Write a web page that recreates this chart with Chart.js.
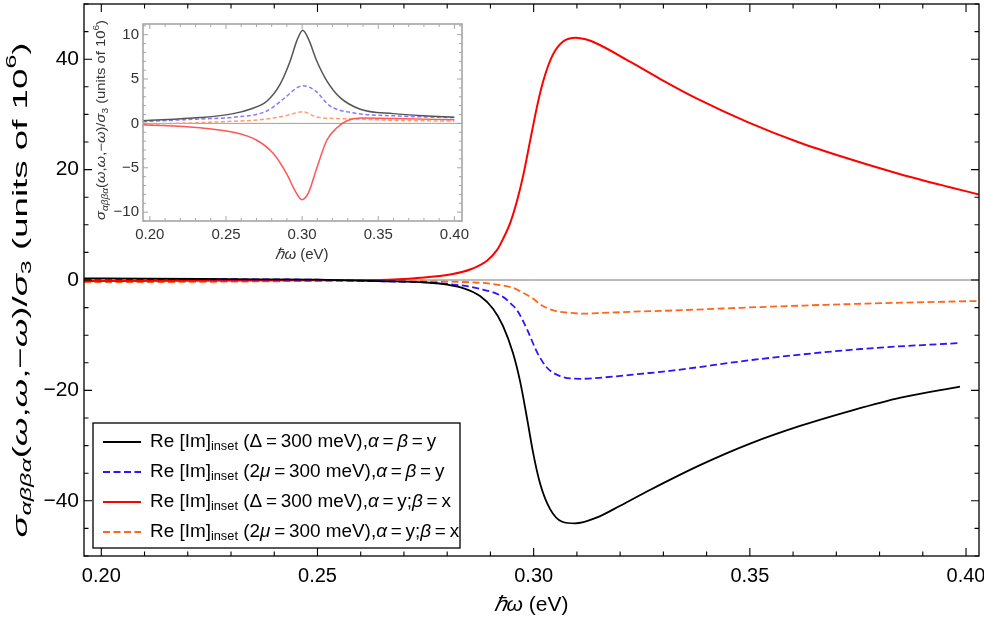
<!DOCTYPE html>
<html>
<head>
<meta charset="utf-8">
<script src="https://cdn.jsdelivr.net/npm/chart.js@4.4.1/dist/chart.umd.min.js"></script>
<style>
  html, body { margin: 0; padding: 0; background: #fff; }
  #wrap { position: relative; width: 984px; height: 618px; }
  #main { position: absolute; left: 0; top: 0; }
  #inset { position: absolute; left: 88px; top: 12px; }
</style>
</head>
<body>
<div id="wrap">
  <canvas id="main" width="984" height="618"></canvas>
  <canvas id="inset" width="387" height="256"></canvas>
</div>
<script>
// ---- ticks ----
const xTicks = [0.20, 0.25, 0.30, 0.35, 0.40];
const yTicks = [-40, -20, 0, 20, 40];
const insetXTicks = [0.20, 0.25, 0.30, 0.35, 0.40];
const insetYTicks = [-10, -5, 0, 5, 10];

// ---- main panel (Re) ----
const xBlack = [0.196, 0.21, 0.23, 0.25, 0.264, 0.276, 0.280, 0.284, 0.2876, 0.2906, 0.2929, 0.2952, 0.2969, 0.2985, 0.2999, 0.3015, 0.3038, 0.3066, 0.3096, 0.3147, 0.320, 0.327, 0.3386, 0.3502, 0.3618, 0.3733, 0.3849, 0.3986];
const yBlack = [0.3, 0.25, 0.15, 0.05, -0.2, -0.5, -0.85, -1.55, -2.9, -5.2, -8.3, -13.2, -18.5, -25.2, -31.4, -36.9, -41.5, -43.8, -44.1, -43, -40.9, -38.0, -33.5, -29.6, -26.4, -23.7, -21.3, -19.3];

const xBlue = [0.196, 0.22, 0.25, 0.2644, 0.28, 0.2876, 0.293, 0.2946, 0.2962, 0.2985, 0.3008, 0.3031, 0.3061, 0.3108, 0.3184, 0.3247, 0.33, 0.3525, 0.3757, 0.3988];
const yBlue = [0.2, 0.15, 0.05, -0.2, -0.7, -1.6, -3.1, -4.2, -5.5, -9.0, -13.1, -15.9, -17.4, -17.9, -17.5, -17.0, -16.6, -14.3, -12.5, -11.4];

const xRed = [0.196, 0.22, 0.25, 0.2644, 0.2737, 0.2813, 0.2853, 0.2892, 0.2915, 0.2929, 0.2946, 0.2962, 0.2976, 0.2992, 0.3008, 0.3022, 0.3043, 0.3068, 0.3098, 0.312, 0.3147, 0.3224, 0.3293, 0.3379, 0.3495, 0.3611, 0.3727, 0.3842, 0.3958, 0.403];
const yRed = [-0.2, -0.15, -0.05, 0, 0.4, 1.1, 1.9, 3.5, 5.4, 7.4, 10.4, 14.5, 19.0, 25.3, 31.5, 36.0, 40.6, 43.2, 43.9, 43.6, 42.8, 39.5, 36.4, 32.8, 28.6, 25, 22, 19.3, 16.9, 15.5];

const xOrange = [0.196, 0.22, 0.25, 0.2644, 0.2876, 0.2925, 0.2952, 0.2975, 0.2999, 0.3015, 0.3031, 0.305, 0.3078, 0.3115, 0.3147, 0.3247, 0.3293, 0.3525, 0.3757, 0.403];
const yOrange = [-0.4, -0.35, -0.2, -0.2, -0.5, -0.95, -1.4, -2.3, -3.4, -4.4, -5.1, -5.6, -5.9, -6.1, -6.0, -5.7, -5.6, -4.9, -4.3, -3.8];

// ---- inset (Im) ----
const xInBlack = [0.1955, 0.2329, 0.2548, 0.2658, 0.2768, 0.2855, 0.2921, 0.2965, 0.3004, 0.3042, 0.3097, 0.3162, 0.325, 0.3382, 0.36, 0.38, 0.40];
const yInBlack = [0.3, 0.65, 1.1, 1.6, 2.5, 4.4, 7, 9.3, 10.5, 9.5, 7, 4.8, 2.9, 1.6, 1.1, 0.85, 0.7];

const xInBlue = [0.1955, 0.2329, 0.2548, 0.2768, 0.2887, 0.2965, 0.3004, 0.3085, 0.318, 0.333, 0.36, 0.40];
const yInBlue = [0.2, 0.5, 0.7, 1.4, 2.9, 4.0, 4.25, 3.7, 2.0, 1.2, 0.85, 0.65];

const xInRed = [0.1956, 0.2329, 0.2548, 0.2702, 0.2811, 0.2899, 0.2954, 0.2998, 0.3042, 0.3097, 0.3162, 0.3228, 0.3294, 0.3382, 0.36, 0.40];
const yInRed = [-0.15, -0.5, -1.0, -1.9, -3.4, -5.7, -7.6, -8.6, -7.8, -5.0, -1.9, -0.5, 0.3, 0.6, 0.55, 0.4];

const xInOrange = [0.1955, 0.25, 0.277, 0.29, 0.3004, 0.31, 0.333, 0.36, 0.40];
const yInOrange = [-0.1, 0.2, 0.5, 0.9, 1.3, 0.7, 0.5, 0.35, 0.25];

const legendLabels = [
  [['Re [Im]', 'n'], ['inset', 'sub'], [' (\u0394\u2009=\u2009300 meV),', 'n'], ['\u03b1', 'i'], ['\u2009=\u2009', 'n'], ['\u03b2', 'i'], ['\u2009=\u2009y', 'n']],
  [['Re [Im]', 'n'], ['inset', 'sub'], [' (2', 'n'], ['\u03bc', 'i'], ['\u2009=\u2009300 meV),', 'n'], ['\u03b1', 'i'], ['\u2009=\u2009', 'n'], ['\u03b2', 'i'], ['\u2009=\u2009y', 'n']],
  [['Re [Im]', 'n'], ['inset', 'sub'], [' (\u0394\u2009=\u2009300 meV),', 'n'], ['\u03b1', 'i'], ['\u2009=\u2009y;', 'n'], ['\u03b2', 'i'], ['\u2009=\u2009x', 'n']],
  [['Re [Im]', 'n'], ['inset', 'sub'], [' (2', 'n'], ['\u03bc', 'i'], ['\u2009=\u2009300 meV),', 'n'], ['\u03b1', 'i'], ['\u2009=\u2009y;', 'n'], ['\u03b2', 'i'], ['\u2009=\u2009x', 'n']]
];

const yTitle = [['\u03c3', 'i'], ['\u03b1\u03b2\u03b2\u03b1', 'isub'], ['(', 'n'], ['\u03c9', 'i'], [',', 'n'], ['\u03c9', 'i'], [',\u2212', 'n'], ['\u03c9', 'i'], [')/', 'n'], ['\u03c3', 'i'], ['3', 'sub'], [' (units of 10', 'n'], ['6', 'sup'], [')', 'n']];
const xTitle = [['\u210f\u03c9', 'i'], [' (eV)', 'n']];

const FONT = '"Liberation Sans", Arial, sans-serif';

function pts(xs, ys) { return xs.map((x, i) => ({ x: x, y: ys[i] })); }

function partFont(kind, size) {
  const small = kind === 'sub' || kind === 'isub' || kind === 'sup';
  const it = kind === 'i' || kind === 'isub';
  return (it ? 'italic ' : '') + Math.round((small ? 0.68 : 1) * size * 10) / 10 + 'px ' + FONT;
}
function partDy(kind, size) {
  if (kind === 'sub' || kind === 'isub') return 0.28 * size;
  if (kind === 'sup') return -0.42 * size;
  return 0;
}

function drawRich(ctx, parts, x, y, size, opt) {
  opt = opt || {};
  ctx.save();
  ctx.fillStyle = opt.color || '#000';
  ctx.textBaseline = 'middle';
  ctx.textAlign = 'left';
  let w = 0;
  const widths = parts.map(p => { ctx.font = partFont(p[1], size); const m = ctx.measureText(p[0]).width; w += m; return m; });
  const stretch = opt.fit ? opt.fit / w : (opt.stretch || 1);
  ctx.translate(x, y);
  if (opt.rotate) ctx.rotate(-Math.PI / 2);
  ctx.scale(stretch, 1);
  let cx = opt.align === 'center' ? -w / 2 : 0;
  parts.forEach((p, i) => {
    ctx.font = partFont(p[1], size);
    ctx.fillText(p[0], cx, partDy(p[1], size));
    cx += widths[i];
  });
  ctx.restore();
}

function eachTick(scale, step, majorStep, fn) {
  const k0 = Math.ceil(scale.min / step - 1e-9), k1 = Math.floor(scale.max / step + 1e-9);
  for (let k = k0; k <= k1; k++) {
    const v = k * step;
    const r = v / majorStep;
    fn(scale.getPixelForValue(v), Math.abs(r - Math.round(r)) < 1e-6);
  }
}

// frame, inward ticks, zero line, titles, legend
const framePlugin = {
  id: 'frame',
  beforeDatasetsDraw(chart, args, o) {
    const { ctx, chartArea: a, scales: { y } } = chart;
    const y0 = y.getPixelForValue(0);
    ctx.save();
    ctx.strokeStyle = o.zeroColor;
    ctx.lineWidth = 1;
    ctx.beginPath(); ctx.moveTo(a.left, y0); ctx.lineTo(a.right, y0); ctx.stroke();
    ctx.restore();
  },
  afterDatasetsDraw(chart, args, o) {
    const { ctx, chartArea: a, scales: { x, y } } = chart;
    ctx.save();
    ctx.strokeStyle = o.color;
    ctx.lineWidth = o.lineWidth;
    ctx.strokeRect(a.left, a.top, a.right - a.left, a.bottom - a.top);
    ctx.beginPath();
    eachTick(x, o.xMinor, o.xMajor, (px, major) => {
      const l = major ? o.major : o.minor;
      ctx.moveTo(px, a.bottom); ctx.lineTo(px, a.bottom - l);
      ctx.moveTo(px, a.top); ctx.lineTo(px, a.top + l);
    });
    eachTick(y, o.yMinor, o.yMajor, (py, major) => {
      const l = major ? o.major : o.minor;
      ctx.moveTo(a.left, py); ctx.lineTo(a.left + l, py);
      ctx.moveTo(a.right, py); ctx.lineTo(a.right - l, py);
    });
    ctx.lineWidth = o.tickWidth;
    ctx.stroke();
    ctx.restore();
  },
  afterDraw(chart, args, o) {
    const ctx = chart.ctx;
    (o.texts || []).forEach(t => drawRich(ctx, t.parts, t.x, t.y, t.size, t));
    const lg = o.legend;
    if (!lg) return;
    ctx.save();
    ctx.fillStyle = '#fff';
    ctx.fillRect(lg.left, lg.top, lg.width, lg.height);
    ctx.strokeStyle = '#000';
    ctx.lineWidth = 1.3;
    ctx.strokeRect(lg.left, lg.top, lg.width, lg.height);
    chart.data.datasets.forEach((ds, i) => {
      const ry = lg.top + lg.first + i * lg.step;
      ctx.save();
      ctx.strokeStyle = ds.borderColor;
      ctx.lineWidth = ds.borderWidth;
      ctx.setLineDash(ds.borderDash || []);
      ctx.beginPath(); ctx.moveTo(lg.left + 10, ry); ctx.lineTo(lg.left + 48, ry); ctx.stroke();
      ctx.restore();
      drawRich(ctx, legendLabels[i], lg.left + 57, ry, lg.size, { stretch: lg.stretch });
    });
    ctx.restore();
  }
};

function fixedTicks(values) {
  return function (scale) { scale.ticks = values.map(v => ({ value: v })); };
}
// fixed axis box, no automatic label overhang padding
function fitBox(dim, px) {
  return function (s) {
    s[dim] = px;
    s.paddingTop = 0; s.paddingBottom = 0; s.paddingLeft = 0; s.paddingRight = 0;
  };
}

function lineSet(xs, ys, color, width, dash) {
  return {
    data: pts(xs, ys),
    showLine: true,
    borderColor: color,
    backgroundColor: color,
    borderWidth: width,
    borderDash: dash,
    pointRadius: 0,
    cubicInterpolationMode: 'monotone',
    fill: false
  };
}

const minus = v => (v < 0 ? '\u2212' + Math.abs(v) : String(v));

// ===== main chart =====
new Chart(document.getElementById('main').getContext('2d'), {
  type: 'scatter',
  data: {
    datasets: [
      lineSet(xBlack, yBlack, '#000000', 1.8, []),
      lineSet(xBlue, yBlue, '#2d13ff', 1.8, [7, 3.5]),
      lineSet(xRed, yRed, '#ff0000', 2, []),
      lineSet(xOrange, yOrange, '#ff6619', 1.8, [7, 3.5])
    ]
  },
  options: {
    responsive: false,
    animation: false,
    events: [],
    layout: { padding: { left: 0, right: 5, top: 4, bottom: 0 } },
    plugins: {
      legend: { display: false },
      tooltip: { enabled: false },
      frame: {
        color: '#000', lineWidth: 1.3, tickWidth: 1.1, zeroColor: '#777',
        major: 8, minor: 4.5, xMinor: 0.01, xMajor: 0.05, yMinor: 5, yMajor: 20,
        texts: [
          { parts: yTitle, x: 21, y: 290, size: 21, rotate: true, align: 'center', fit: 495 },
          { parts: xTitle, x: 531, y: 605, size: 21, align: 'center' }
        ],
        legend: { left: 93, top: 423, width: 367, height: 125, first: 19, step: 30, size: 18, stretch: 1.05 }
      }
    },
    scales: {
      x: {
        type: 'linear', min: 0.196, max: 0.403,
        afterBuildTicks: fixedTicks(xTicks),
        afterFit: fitBox('height', 62),
        grid: { display: false, drawTicks: false },
        border: { display: false },
        ticks: { color: '#000', font: { family: FONT, size: 20 }, padding: 8, maxRotation: 0, autoSkip: false, callback: v => v.toFixed(2) }
      },
      y: {
        type: 'linear', min: -50, max: 50,
        afterBuildTicks: fixedTicks(yTicks),
        afterFit: fitBox('width', 84),
        grid: { display: false, drawTicks: false },
        border: { display: false },
        ticks: { color: '#000', font: { family: FONT, size: 21 }, padding: 5, autoSkip: false, callback: minus }
      }
    }
  },
  plugins: [framePlugin]
});

// ===== inset chart =====
new Chart(document.getElementById('inset').getContext('2d'), {
  type: 'scatter',
  data: {
    datasets: [
      lineSet(xInBlack, yInBlack, '#555555', 1.5, []),
      lineSet(xInBlue, yInBlue, '#8a78ff', 1.5, [4, 2.5]),
      lineSet(xInRed, yInRed, '#ff5656', 1.5, []),
      lineSet(xInOrange, yInOrange, '#ff9d6e', 1.5, [4, 2.5])
    ]
  },
  options: {
    responsive: false,
    animation: false,
    events: [],
    layout: { padding: { left: 0, right: 13, top: 12, bottom: 0 } },
    plugins: {
      legend: { display: false },
      tooltip: { enabled: false },
      frame: {
        color: '#a6a6a6', lineWidth: 1.6, tickWidth: 1, zeroColor: '#a0a0a0',
        major: 5, minor: 3, xMinor: 0.01, xMajor: 0.05, yMinor: 1, yMajor: 5,
        texts: [
          { parts: yTitle, x: 14, y: 108, size: 12, rotate: true, align: 'center', fit: 200, color: '#333' },
          { parts: xTitle, x: 214, y: 243, size: 15, align: 'center', color: '#333' }
        ]
      }
    },
    scales: {
      x: {
        type: 'linear', min: 0.1955, max: 0.405,
        afterBuildTicks: fixedTicks(insetXTicks),
        afterFit: fitBox('height', 47),
        grid: { display: false, drawTicks: false },
        border: { display: false },
        ticks: { color: '#333', font: { family: FONT, size: 15 }, padding: 5, maxRotation: 0, autoSkip: false, callback: v => v.toFixed(2) }
      },
      y: {
        type: 'linear', min: -11, max: 11.2,
        afterBuildTicks: fixedTicks(insetYTicks),
        afterFit: fitBox('width', 55),
        grid: { display: false, drawTicks: false },
        border: { display: false },
        ticks: { color: '#333', font: { family: FONT, size: 15 }, padding: 4, autoSkip: false, callback: minus }
      }
    }
  },
  plugins: [framePlugin]
});
</script>
</body>
</html>
